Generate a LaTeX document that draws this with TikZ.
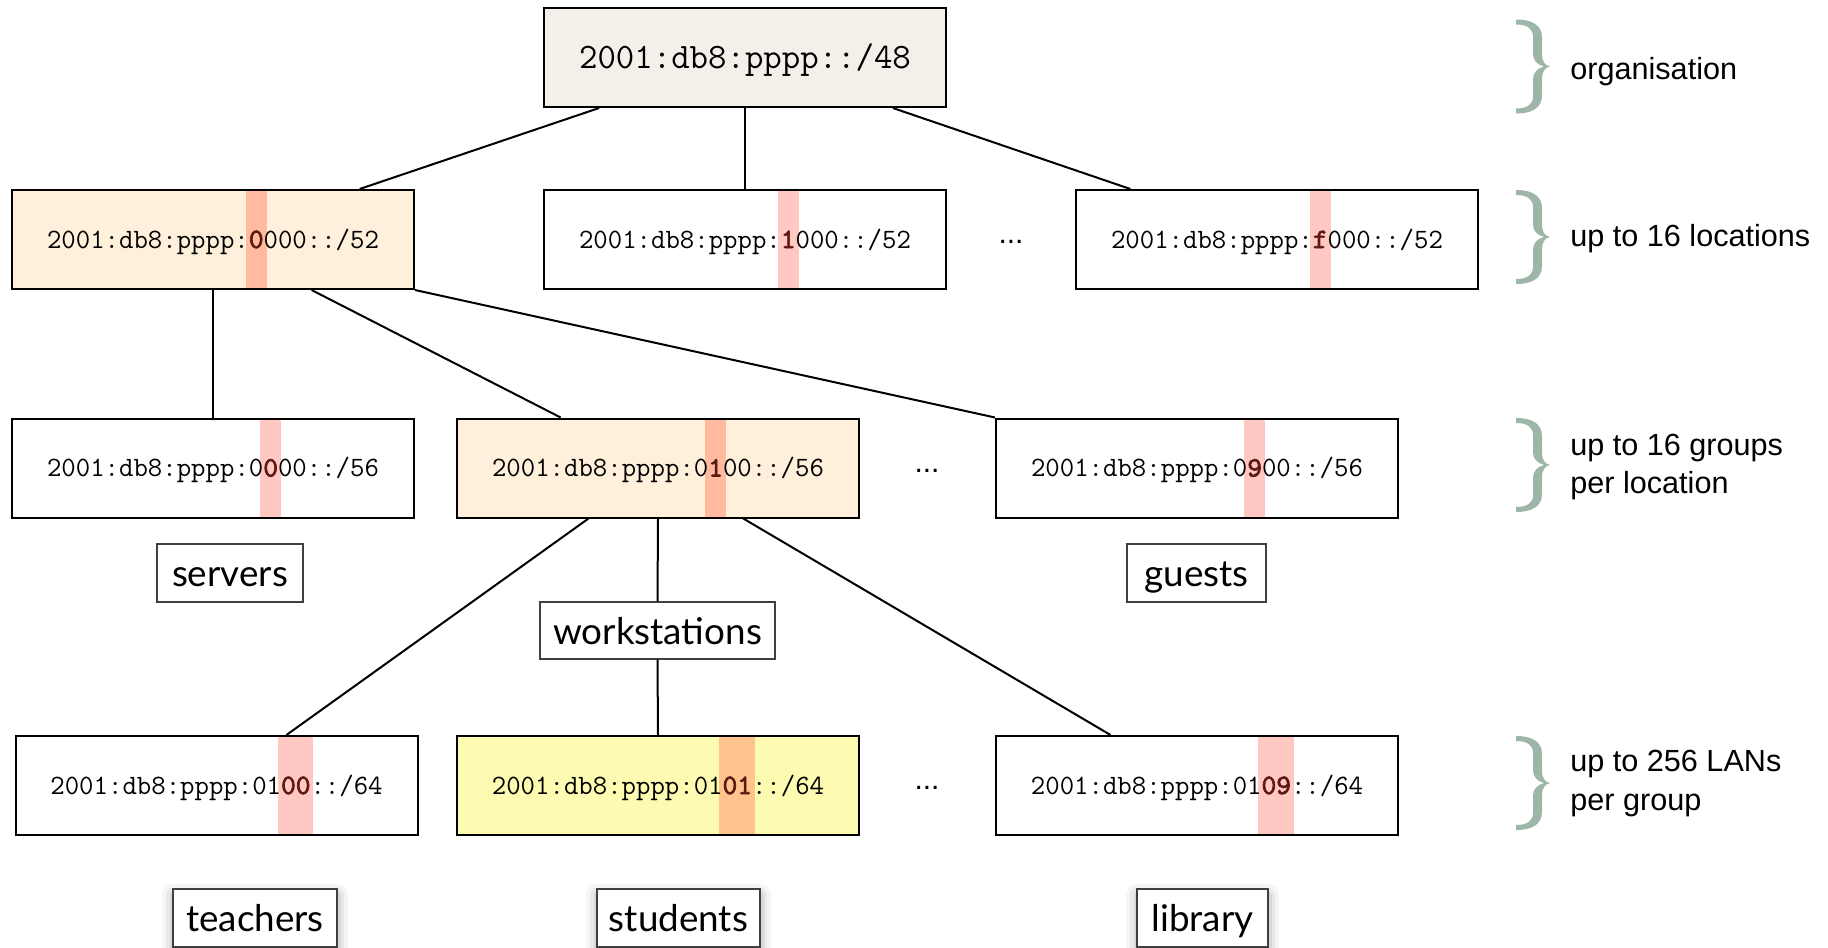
\documentclass[tikz,border=0pt]{standalone}
\usepackage{fontspec}
\newfontfamily\labelfont{Lato}
\newfontfamily\notefont{Liberation Sans}
\newfontfamily\ttheavy{lmmono10-regular.otf}[FakeBold=2.5]
\usetikzlibrary{calc}

\definecolor{orgfill}{HTML}{F4F0E9}
\definecolor{pathfill}{HTML}{FEF0DB}
\definecolor{lanfill}{HTML}{FDFBB1}
\definecolor{hlsalmon}{HTML}{FFBAA0}
\definecolor{hlpink}{HTML}{FFC8C2}
\definecolor{hlorange}{HTML}{FDC48E}
\definecolor{hltext}{HTML}{5E1A10}
\definecolor{bracegreen}{HTML}{9DB6A7}

% address with one highlighted nibble group:
% #1 stripe colour, #2 text before, #3 highlighted digits, #4 text after.
% The stripe spans the box height and lies behind the whole address text.
\newlength\hlpad \setlength\hlpad{1.6pt}
\newcommand\addrhl[4]{%
  \setbox0\hbox{#2}\setbox2\hbox{#3}%
  \rlap{\kern\dimexpr\wd0-\hlpad\relax\smash{\textcolor{#1}{\rule[-20.05pt]{\dimexpr\wd2+2\hlpad\relax}{48.5pt}}}}%
  #2\textcolor{hltext}{\ttheavy #3}#4}

\tikzset{
  addr/.style={draw=black, line width=1pt, minimum width=201pt, minimum height=49.5pt,
    inner sep=0pt, text height=8.5pt, text depth=0pt,
    font=\ttfamily\fontsize{14}{16}\selectfont},
  link/.style={draw=black, line width=1pt},
  tag/.style={draw=black!75, line width=0.6pt, fill=white, inner sep=0pt,
    text height=13.5pt, text depth=0pt,
    font=\labelfont\fontsize{18.4}{22}\selectfont},
  shadowed/.style={
    preaction={draw=black, opacity=0.04, line width=11pt, line join=round, transform canvas={yshift=-3pt}},
    preaction={draw=black, opacity=0.055, line width=7pt, line join=round, transform canvas={yshift=-3pt}},
    preaction={draw=black, opacity=0.07, line width=3.5pt, line join=round, transform canvas={yshift=-3pt}}},
  note/.style={anchor=base west, inner sep=0pt, font=\notefont\fontsize{15.3}{19}\selectfont},
  dots/.style={inner sep=0pt, font=\notefont\fontsize{15}{18}\selectfont},
  curlybrace/.pic={
    \fill[bracegreen] (0,0) .. controls (15,0) and (26,5) .. (26,18) -- (26,35)
      .. controls (26,42) and (29,46) .. (34,47) .. controls (29,48) and (26,52) .. (26,59)
      -- (26,76) .. controls (26,89) and (15,94) .. (0,94) -- (0,89)
      .. controls (11,89) and (17,85) .. (17,77) -- (17,60)
      .. controls (17,53) and (21,49) .. (28,47) .. controls (21,45) and (17,41) .. (17,34)
      -- (17,17) .. controls (17,9) and (11,5) .. (0,5) -- cycle;
  }
}

\begin{document}
\begin{tikzpicture}[x=0.5pt, y=-0.5pt]
\useasboundingbox (0,0) rectangle (1828,948);

% organisation prefix
\node[addr, fill=orgfill, text height=10.9pt, font=\ttfamily\fontsize{17.9}{20}\selectfont] (org) at (745,57.5) {2001:db8:pppp::/48};

% locations
\node[addr, fill=pathfill] (loc0) at (213,239.5) {\addrhl{hlsalmon}{2001:db8:pppp:}{0}{000::/52}};
\node[addr, fill=white]    (loc1) at (745,239.5) {\addrhl{hlpink}{2001:db8:pppp:}{1}{000::/52}};
\node[addr, fill=white]    (locf) at (1277,239.5) {\addrhl{hlpink}{2001:db8:pppp:}{f}{000::/52}};
\node[dots] (dotsloc) at (1011,242) {...};

% groups
\node[addr, fill=white]    (grp0) at (213,468) {\addrhl{hlpink}{2001:db8:pppp:0}{0}{00::/56}};
\node[addr, fill=pathfill] (grp1) at (658,468) {\addrhl{hlsalmon}{2001:db8:pppp:0}{1}{00::/56}};
\node[addr, fill=white]    (grp9) at (1197,468) {\addrhl{hlpink}{2001:db8:pppp:0}{9}{00::/56}};
\node[dots] (dotsgrp) at (927,470.5) {...};

% LANs
\node[addr, fill=white]   (lan0) at (216.5,785.5) {\addrhl{hlpink}{2001:db8:pppp:01}{00}{::/64}};
\node[addr, fill=lanfill] (lan1) at (658,785.5) {\addrhl{hlorange}{2001:db8:pppp:01}{01}{::/64}};
\node[addr, fill=white]   (lan9) at (1197,785.5) {\addrhl{hlpink}{2001:db8:pppp:01}{09}{::/64}};
\node[dots] (dotslan) at (927,788) {...};

% group and LAN names
\node[tag, minimum width=73pt, minimum height=29pt] (servers) at (230,573) {servers};
\node[tag, minimum width=69.5pt, minimum height=29pt] (guests) at (1196.5,573) {guests};
\node[tag, minimum width=117.5pt, minimum height=28.5pt] (workst) at (657.5,630.5) {workstations};
\node[tag, shadowed, minimum width=82pt, minimum height=29pt] (teachers) at (255,918) {teachers};
\node[tag, shadowed, minimum width=81.5pt, minimum height=29pt] (students) at (678.5,918) {students};
\node[tag, shadowed, minimum width=65.5pt, minimum height=29pt] (library) at (1202.5,918) {library};

% tree connectors
\draw[link] ($(org.south west)!0.139!(org.south east)$) -- ($(loc0.north west)!0.863!(loc0.north east)$);
\draw[link] (org.south) -- (loc1.north);
\draw[link] ($(org.south west)!0.866!(org.south east)$) -- ($(locf.north west)!0.137!(locf.north east)$);
\draw[link] (loc0.south) -- (grp0.north);
\draw[link] ($(loc0.south west)!0.744!(loc0.south east)$) -- ($(grp1.north west)!0.259!(grp1.north east)$);
\draw[link] (loc0.south east) -- (grp9.north west);
\draw[link] ($(grp1.south west)!0.328!(grp1.south east)$) -- ($(lan0.north west)!0.673!(lan0.north east)$);
\draw[link] (grp1.south) -- (workst.north);
\draw[link] (workst.south) -- (lan1.north);
\draw[link] ($(grp1.south west)!0.711!(grp1.south east)$) -- ($(lan9.north west)!0.286!(lan9.north east)$);

% level annotations
\pic at (1516,19.5) {curlybrace};
\pic at (1516,190) {curlybrace};
\pic at (1516,418) {curlybrace};
\pic at (1516,736) {curlybrace};
\node[note] (lvlorg) at (1570,79.5) {organisation};
\node[note] (lvlloc) at (1570,246.5) {up to 16 locations};
\node[note] (lvlgrpa) at (1570,455.5) {up to 16 groups};
\node[note] (lvlgrpb) at (1570,493.5) {per location};
\node[note] (lvllana) at (1570,771.5) {up to 256 LANs};
\node[note] (lvllanb) at (1570,810.5) {per group};
\end{tikzpicture}
\end{document}
